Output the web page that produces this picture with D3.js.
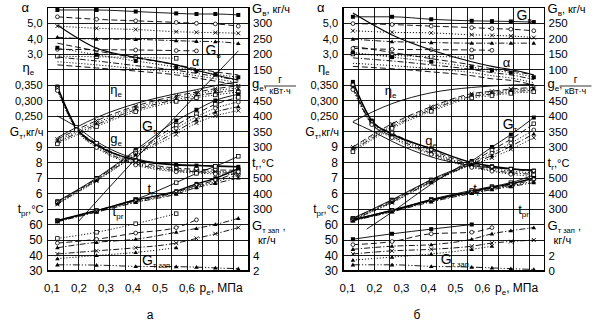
<!DOCTYPE html>
<html><head><meta charset="utf-8">
<script src="https://cdn.jsdelivr.net/npm/d3@7"></script>
<style>
body{margin:0;background:#fff;}
svg{display:block;font-family:"Liberation Sans",Arial,sans-serif;}
</style></head><body>
<svg id="c" width="597" height="326"></svg>
<script>
// ---------- shared x data ----------
const pe   = [0.12, 0.265, 0.41, 0.56, 0.635, 0.705, 0.79];
const peGe = [0.12, 0.19, 0.265, 0.41, 0.56, 0.635, 0.705, 0.79];
const xTicks = [0.1, 0.2, 0.3, 0.4, 0.5, 0.6];
const xTickLabels = ["0,1", "0,2", "0,3", "0,4", "0,5", "0,6"];
const alphaTicks = [5, 4, 3];
const etaTicks = [0.35, 0.30, 0.25];
const gtTicks = [9, 8, 7, 6];
const tprTicks = [60, 50, 40, 30];
const geTicks = [450, 400, 350, 300];
const trTicks = [500, 400, 300];
const gvTicks_a = [300, 250, 200, 150];
const gvTicks_b = [250, 200, 150, 100];
const gzTicks_a = [4, 2];
const gzTicks_b = [2, 0];

// ---------- panel а ----------
const gvA_a = [342, 342, 337, 331, 329, 329, 326];
const gvB_a = [320, 312, 307, 302, 299, 297, 290];
const gvC_a = [290, 283, 279, 272, 270, 269, 267];
const gvD_a = [254, 248, 247, 243, 241, 240, 234];
const gvE_a = [215, 214, 213, 211, 210, null, null];
const gvF_a = [193, 191, 189, 186, null, null, null];
const alpha1_a = [4.87, 3.37, 2.79, 2.3, 1.95, 1.65, 1.32];
const alpha2_a = [3.7, 3.2, 2.75, 2.3, 2.05, 1.85, 1.65];
const alpha3_a = [3.4, 2.95, 2.55, 2.15, 1.9, 1.7, 1.5];
const alpha4_a = [2.8, 2.55, 2.25, 1.95, 1.75, 1.55, 1.32];
const alpha5_a = [2.5, 2.3, 2.05, 1.8, 1.6, 1.4, 1.15];
const alpha6_a = [2.3, 2.1, 1.9, 1.65, 1.45, 1.25, 1.0];
const eta1_a = [0.18, 0.245, 0.29, 0.322, 0.335, 0.348, 0.36];
const eta2_a = [0.175, 0.235, 0.282, 0.315, 0.327, 0.338, 0.347];
const eta3_a = [0.17, 0.228, 0.276, 0.309, 0.321, 0.332, 0.34];
const eta4_a = [0.165, 0.222, 0.27, 0.303, 0.315, 0.325, 0.334];
const eta5_a = [0.16, 0.216, 0.264, 0.297, 0.309, 0.318, 0.327];
const ge1_a = [495, 362, 308, 258, 242, 240, 238, 236];
const ge2_a = [400, 365, 318, 262, 244, 241, 239, 237];
const ge3_a = [490, 364, 312, 255, 232, 228, 226, 225];
const ge4_a = [488, 360, 306, 250, 228, 223, 221, 220];
const ge5_a = [485, 358, 302, 246, 224, 220, 217, 216];
const ge6_a = [482, 355, 298, 242, 220, 216, 213, 211];
const gt1_a = [5.5, 7.0, 8.8, 10.7, 11.4, 12.0, 12.4];
const gt2_a = [5.45, 6.95, 8.7, 10.4, 11.15, 11.75, 12.2];
const gt3_a = [5.4, 6.9, 8.6, 10.2, 10.95, 11.5, 11.9];
const gt4_a = [5.35, 6.85, 8.5, 10.0, 10.75, 11.25, 11.6];
const gt5_a = [5.3, 6.8, 8.45, 9.8, 10.55, 11.0, 11.35];
const peSteep_a = [0.198, 0.41, 0.56, 0.79];
const gtSteep_a = [4.2, 8.25, 11.0, 15.2];
const tr1_a = [225, 290, 362, 470, 530, 575, 640];
const tr2_a = [225, 290, 358, 415, 462, 498, 560];
const tr3_a = [222, 286, 352, 408, 452, 485, 540];
const tr4_a = [220, 283, 347, 402, 445, 475, 520];
const tr5_a = [218, 280, 342, 396, 438, 465, 500];
const tp1_a = [51, 55, 60.5, 67, null, null, null];
const tp2_a = [48, 50.5, 54.5, 58, 63, null, null];
const tp3_a = [45, 48.5, 50.5, 55, 57.5, 60, 64];
const gz1_a = [4.2, 4.6, 5.0, 5.6, 6.2, 6.8, 7.6];
const gz2_a = [3.6, 4.0, 4.4, 5.0, null, null, null];
const gz3_a = [2.8, 2.76, 2.6, 2.56, 2.5, 2.4, 2.3];

// ---------- panel б ----------
const gvA_b = [270, 270, 262, 257, 256, 255, 253];
const gvB_b = [248, 245, 240, 235, 232, 230, 225];
const gvC_b = [225, 220, 218, 212, 210, 208, 203];
const gvD_b = [198, 190, 187, 185, 185, 185, 185];
const gvE_b = [168, 165, 164, 163, 162, null, null];
const gvF_b = [150, 145, 142, 140, null, null, null];
const alpha1_b = [5.64, 4.23, 3.26, 2.5, 2.2, 2.0, 1.65];
const alpha2_b = [3.5, 3.1, 2.7, 2.3, 2.05, 1.9, 1.65];
const alpha3_b = [3.1, 2.8, 2.5, 2.15, 1.95, 1.8, 1.5];
const alpha4_b = [2.75, 2.55, 2.3, 2.0, 1.8, 1.65, 1.35];
const alpha5_b = [2.4, 2.25, 2.05, 1.8, 1.6, 1.45, 1.15];
const alpha6_b = [2.2, 2.05, 1.85, 1.6, 1.4, 1.3, 1.0];
const eta1_b = [0.232, 0.29, 0.325, 0.342, 0.347, 0.35, 0.352];
const eta2_b = [0.15, 0.225, 0.28, 0.322, 0.33, 0.337, 0.342];
const eta3_b = [0.145, 0.22, 0.275, 0.318, 0.326, 0.333, 0.338];
const eta4_b = [0.14, 0.215, 0.27, 0.313, 0.321, 0.328, 0.333];
const eta5_b = [0.135, 0.21, 0.265, 0.308, 0.316, 0.323, 0.328];
const ge1_b = [510, 385, 342, 295, 250, 238, 230, 224];
const ge2_b = [380, 352, 318, 268, 240, 233, 229, 226];
const ge3_b = [500, 380, 345, 290, 245, 235, 228, 222];
const ge4_b = [495, 378, 340, 285, 240, 230, 222, 217];
const ge5_b = [490, 375, 335, 280, 237, 225, 217, 212];
const ge6_b = [485, 372, 330, 276, 234, 222, 212, 205];
const gt1_b = [4.4, 5.6, 6.9, 8.1, 9.0, 9.8, 10.9];
const gt2_b = [4.4, 5.55, 6.85, 8.0, 8.8, 9.5, 10.5];
const gt3_b = [4.35, 5.5, 6.8, 7.95, 8.6, 9.25, 10.1];
const gt4_b = [4.3, 5.45, 6.75, 7.9, 8.45, 9.05, 9.85];
const gt5_b = [4.3, 5.4, 6.7, 7.85, 8.3, 8.85, 9.6];
const peSteep_b = [0.171, 0.265, 0.41, 0.521];
const gtSteep_b = [3.7, 4.8, 6.6, 7.8];
const tr1_b = [232, 292, 362, 420, 445, 470, 520];
const tr2_b = [230, 290, 358, 412, 440, 462, 500];
const tr3_b = [228, 287, 354, 408, 435, 455, 490];
const tr4_b = [226, 285, 350, 404, 430, 450, 480];
const tr5_b = [224, 282, 346, 400, 425, 445, 470];
const tp1_b = [50.5, 54, 57, 60, null, null, null];
const tp2_b = [47, 49, 54, 55, 58, null, null];
const tp3_b = [44, 46, 47, 50.5, 54, 56, 58];
const gz1_b = [2.2, 2.6, 2.8, 3.2, 3.6, 3.8, 4.0];
const gz2_b = [1.4, 1.8, 2.2, 2.8, 3.2, null, null];
const gz3_b = [0.8, 0.8, 0.6, 0.5, 0.4, 0.3, 0.2];

// ---------- drawing ----------
const svg = d3.select('#c');
const TOP = 7.5, ROW = 15.5, NR = 17, NC = 13, COL = 15.5;
const DASH = {solid: null, dash: "6,3", dot: "1.2,1.8", dashdot: "6,2,1.2,2", dashdot2: "7,2,1.2,2,1.2,2"};

function txt(parent, x, y, parts, anchor, size) {
  const t = parent.append('text').attr('x', x).attr('y', y)
    .attr('text-anchor', anchor || 'start').attr('font-size', size || 11).attr('fill', '#000');
  let sub = false;
  parts.forEach(p => {
    const arr = typeof p === 'string' ? [p, 'n'] : p;
    const ts = t.append('tspan').text(arr[0]);
    if (arr[1] === 's') {
      ts.attr('font-size', arr[2] || 8);
      if (!sub) { ts.attr('dy', 3); sub = true; }
    } else {
      if (arr[2]) ts.attr('font-size', arr[2]);
      if (sub) { ts.attr('dy', -3); sub = false; }
    }
  });
  return t;
}

function marker(g, type, cx, cy) {
  if (!type) return;
  if (type === 'fsq') g.append('rect').attr('x', cx - 2).attr('y', cy - 2).attr('width', 4).attr('height', 4).attr('fill', '#000');
  else if (type === 'osq') g.append('rect').attr('x', cx - 1.8).attr('y', cy - 1.8).attr('width', 3.6).attr('height', 3.6).attr('fill', '#fff').attr('stroke', '#000').attr('stroke-width', 0.8);
  else if (type === 'oc') g.append('circle').attr('cx', cx).attr('cy', cy).attr('r', 1.9).attr('fill', '#fff').attr('stroke', '#000').attr('stroke-width', 0.8);
  else if (type === 'x') g.append('path').attr('d', `M${cx-2},${cy-2}L${cx+2},${cy+2}M${cx-2},${cy+2}L${cx+2},${cy-2}`).attr('stroke', '#000').attr('stroke-width', 0.9);
  else if (type === 'tri') g.append('path').attr('d', `M${cx-2.3},${cy+1.6}L${cx+2.3},${cy+1.6}L${cx},${cy-2.2}Z`).attr('fill', '#000');
}

function panel(cfg) {
  const L = cfg.left, R = L + NC * COL, B = TOP + NR * ROW;
  const g = svg.append('g');
  const gx = d3.scaleLinear().domain([0, NC]).range([L, R]);
  const gy = d3.scaleLinear().domain([0, NR]).range([TOP, B]);
  const x = d3.scaleLinear().domain([0.1, 0.6]).range([L + 4.5, L + 139.5]);
  const ys = {
    alpha: d3.scaleLinear().domain([6, 6 - NR]).range([TOP, B]),
    gv: d3.scaleLinear().domain([cfg.gvTop, cfg.gvTop - 50 * NR]).range([TOP, B]),
    eta: d3.scaleLinear().domain([0.60, 0.60 - 0.05 * NR]).range([TOP, B]),
    ge: d3.scaleLinear().domain([750, 750 - 50 * NR]).range([TOP, B]),
    gt: d3.scaleLinear().domain([18, 18 - NR]).range([TOP, B]),
    tr: d3.scaleLinear().domain([1600, 1600 - 100 * NR]).range([TOP, B]),
    tpr: d3.scaleLinear().domain([200, 200 - 10 * NR]).range([TOP, B]),
    gz: d3.scaleLinear().domain([cfg.gzTop, cfg.gzTop - 2 * NR]).range([TOP, B])
  };
  // grid
  const grid = g.append('g').attr('stroke', '#000').attr('stroke-width', 0.9).attr('shape-rendering', 'crispEdges');
  grid.selectAll('.v').data(d3.range(1, NC)).join('line').attr('class', 'v')
    .attr('x1', d => gx(d)).attr('x2', d => gx(d)).attr('y1', TOP).attr('y2', B);
  grid.selectAll('.h').data(d3.range(1, NR)).join('line').attr('class', 'h')
    .attr('y1', d => gy(d)).attr('y2', d => gy(d)).attr('x1', L).attr('x2', R);
  g.append('rect').attr('x', L).attr('y', TOP).attr('width', R - L).attr('height', B - TOP)
    .attr('fill', 'none').attr('stroke', '#000').attr('stroke-width', 1.2).attr('shape-rendering', 'crispEdges');

  // series
  const sg = g.append('g');
  cfg.series.forEach(s => {
    const xs = s.x || pe;
    const pts = xs.map((xv, i) => ({x: xv, v: s.v[i]})).filter(d => d.v != null);
    const ysc = ys[s.p];
    const line = d3.line().x(d => x(d.x)).y(d => ysc(d.v)).curve(d3.curveMonotoneX);
    sg.append('path').attr('d', line(pts)).attr('fill', 'none').attr('stroke', '#000')
      .attr('stroke-width', s.w || 0.9).attr('stroke-dasharray', DASH[s.d]);
    if (s.m) pts.forEach(d => marker(sg, s.m, x(d.x), ysc(d.v)));
  });

  // left axis
  const la = g.append('g');
  const lx = L - 5;
  alphaTicks.forEach(v => txt(la, lx, ys.alpha(v) + 4, [d3.format('.1f')(v).replace('.', ',')], 'end'));
  etaTicks.forEach(v => txt(la, lx, ys.eta(v) + 4, [d3.format('.3f')(v).replace('.', ',')], 'end'));
  gtTicks.forEach(v => txt(la, lx, ys.gt(v) + 4, [String(v)], 'end', 12));
  tprTicks.forEach(v => txt(la, lx, ys.tpr(v) + 4, [String(v)], 'end', 12));
  txt(la, L - 26, gy(0) + 4, ['α'], 'start', 13);
  txt(la, L - 25, gy(4) + 2, [['η', 'n', 13], ['e', 's', 8]], 'start');
  txt(la, L - 4, gy(8) + 4, [['G', 'n', 12], ['т', 's', 8], [',кг/ч', 'n', 11]], 'end');
  txt(la, L - 4, gy(13) + 4, [['t', 'n', 12], ['pr', 's', 8], [',°C', 'n', 11]], 'end');

  // right axis
  const ra = g.append('g');
  const rx = R + 4;
  cfg.gvTicks.forEach(v => txt(ra, rx, ys.gv(v) + 4, [String(v)], 'start', 11.5));
  geTicks.forEach(v => txt(ra, rx, ys.ge(v) + 4, [String(v)], 'start', 11.5));
  trTicks.forEach(v => txt(ra, rx, ys.tr(v) + 4, [String(v)], 'start', 11.5));
  cfg.gzTicks.forEach(v => txt(ra, rx, ys.gz(v) + 4, [String(v)], 'start', 11.5));
  txt(ra, rx - 1, gy(0) + 5, [['G', 'n', 13], ['в', 's', 8], [', кг/ч', 'n', 11]]);
  txt(ra, rx - 1, gy(5) + 3, [['g', 'n', 13], ['е', 's', 8], [',', 'n', 11]]);
  txt(ra, rx + 27, gy(5) - 2, ['г'], 'middle', 10);
  ra.append('line').attr('x1', rx + 11).attr('x2', rx + 43).attr('y1', gy(5) + 1).attr('y2', gy(5) + 1).attr('stroke', '#000').attr('stroke-width', 0.8);
  txt(ra, rx + 27, gy(5) + 9, ['кВт·ч'], 'middle', 9);
  txt(ra, rx - 1, gy(10) + 4, [['t', 'n', 13], ['г', 's', 8], [',°C', 'n', 11]]);
  txt(ra, rx - 1, gy(14) + 5, [['G', 'n', 13], ['т зап', 's', 7.5], [' ,', 'n', 11]]);
  txt(ra, rx + 5, gy(15) + 4, ['кг/ч'], 'start', 11);

  // x axis
  const xa = g.append('g');
  xTicks.forEach((v, i) => txt(xa, x(v), 292, [xTickLabels[i]], 'middle', 11.5));
  txt(xa, L + 152, 292, [['p', 'n', 12], ['е', 's', 8], [', МПа', 'n', 12]]);
  txt(xa, cfg.capX, 319, [cfg.caption], 'middle', 12);

  // in-plot labels
  const il = g.append('g');
  cfg.labels.forEach(lb => txt(il, gx(lb.c), gy(lb.r), lb.t, 'start', 11));
}

function mkSeries(s) {
  return [
    {p: 'gv', v: s.gvA, d: 'solid', m: 'fsq'},
    {p: 'gv', v: s.gvB, d: 'dash', m: 'oc'},
    {p: 'gv', v: s.gvC, d: 'dot', m: 'x'},
    {p: 'gv', v: s.gvD, d: 'dashdot', m: 'tri'},
    {p: 'gv', v: s.gvE, d: 'dash', m: 'oc'},
    {p: 'gv', v: s.gvF, d: 'dot', m: 'osq'},
    {p: 'alpha', v: s.a1, d: 'solid', m: null, w: 1.1},
    {p: 'alpha', v: s.a2, d: 'dash', m: null},
    {p: 'alpha', v: s.a3, d: 'dot', m: 'fsq'},
    {p: 'alpha', v: s.a4, d: 'dashdot', m: null},
    {p: 'alpha', v: s.a5, d: 'dot', m: null},
    {p: 'alpha', v: s.a6, d: 'dash', m: null},
    {p: 'eta', v: s.e1, d: 'solid', m: null},
    {p: 'eta', v: s.e2, d: 'dash', m: 'x'},
    {p: 'eta', v: s.e3, d: 'dot', m: 'x'},
    {p: 'eta', v: s.e4, d: 'dashdot', m: 'tri'},
    {p: 'eta', v: s.e5, d: 'dot', m: 'osq'},
    {p: 'ge', x: peGe, v: s.g1, d: 'solid', m: 'fsq', w: 1.5},
    {p: 'ge', x: peGe, v: s.g2, d: 'solid', m: null},
    {p: 'ge', x: peGe, v: s.g3, d: 'dash', m: 'osq'},
    {p: 'ge', x: peGe, v: s.g4, d: 'dot', m: 'x'},
    {p: 'ge', x: peGe, v: s.g5, d: 'dashdot', m: 'tri'},
    {p: 'ge', x: peGe, v: s.g6, d: 'dot', m: 'oc'},
    {p: 'gt', v: s.t1, d: 'solid', m: 'fsq'},
    {p: 'gt', v: s.t2, d: 'dash', m: 'osq'},
    {p: 'gt', v: s.t3, d: 'dot', m: 'oc'},
    {p: 'gt', v: s.t4, d: 'dashdot', m: 'tri'},
    {p: 'gt', v: s.t5, d: 'dot', m: 'x'},
    {p: 'gt', x: s.stX, v: s.st, d: 'solid', m: null},
    {p: 'tr', v: s.r1, d: 'solid', m: 'osq'},
    {p: 'tr', v: s.r2, d: 'solid', m: 'fsq', w: 1.4},
    {p: 'tr', v: s.r3, d: 'dash', m: 'oc'},
    {p: 'tr', v: s.r4, d: 'dot', m: 'x'},
    {p: 'tr', v: s.r5, d: 'dashdot', m: 'tri'},
    {p: 'tpr', v: s.p1, d: s.p1d, m: s.p1m},
    {p: 'tpr', v: s.p2, d: 'dash', m: 'oc'},
    {p: 'tpr', v: s.p3, d: 'dashdot', m: 'tri'},
    {p: 'gz', v: s.z1, d: 'dashdot', m: 'x'},
    {p: 'gz', v: s.z2, d: 'dot', m: 'tri'},
    {p: 'gz', v: s.z3, d: 'dashdot2', m: 'tri'}
  ];
}

panel({
  left: 47.5, gvTop: 350, gzTop: 36, gvTicks: gvTicks_a, gzTicks: gzTicks_a, caption: 'а', capX: 150,
  series: mkSeries({gvA: gvA_a, gvB: gvB_a, gvC: gvC_a, gvD: gvD_a, gvE: gvE_a, gvF: gvF_a,
    a1: alpha1_a, a2: alpha2_a, a3: alpha3_a, a4: alpha4_a, a5: alpha5_a, a6: alpha6_a,
    e1: eta1_a, e2: eta2_a, e3: eta3_a, e4: eta4_a, e5: eta5_a,
    g1: ge1_a, g2: ge2_a, g3: ge3_a, g4: ge4_a, g5: ge5_a, g6: ge6_a,
    t1: gt1_a, t2: gt2_a, t3: gt3_a, t4: gt4_a, t5: gt5_a, stX: peSteep_a, st: gtSteep_a,
    r1: tr1_a, r2: tr2_a, r3: tr3_a, r4: tr4_a, r5: tr5_a,
    p1: tp1_a, p1d: 'dot', p1m: 'osq', p2: tp2_a, p3: tp3_a, z1: gz1_a, z2: gz2_a, z3: gz3_a}),
  labels: [
    {c: 10.2, r: 3.06, t: [['G', 'n', 14], ['в', 's', 8]]},
    {c: 9.3, r: 3.77, t: [['α', 'n', 13]]},
    {c: 4.05, r: 5.6, t: [['η', 'n', 13], ['e', 's', 8]]},
    {c: 6.1, r: 7.97, t: [['G', 'n', 14], ['т', 's', 8]]},
    {c: 4.05, r: 8.74, t: [['g', 'n', 13], ['е', 's', 8]]},
    {c: 6.45, r: 11.95, t: [['t', 'n', 13], ['г', 's', 8]]},
    {c: 4.2, r: 13.45, t: [['t', 'n', 13], ['pr', 's', 8]]},
    {c: 6.1, r: 16.6, t: [['G', 'n', 14], ['т зап', 's', 7.5]]}
  ]
});

panel({
  left: 343, gvTop: 300, gzTop: 34, gvTicks: gvTicks_b, gzTicks: gzTicks_b, caption: 'б', capX: 417,
  series: mkSeries({gvA: gvA_b, gvB: gvB_b, gvC: gvC_b, gvD: gvD_b, gvE: gvE_b, gvF: gvF_b,
    a1: alpha1_b, a2: alpha2_b, a3: alpha3_b, a4: alpha4_b, a5: alpha5_b, a6: alpha6_b,
    e1: eta1_b, e2: eta2_b, e3: eta3_b, e4: eta4_b, e5: eta5_b,
    g1: ge1_b, g2: ge2_b, g3: ge3_b, g4: ge4_b, g5: ge5_b, g6: ge6_b,
    t1: gt1_b, t2: gt2_b, t3: gt3_b, t4: gt4_b, t5: gt5_b, stX: peSteep_b, st: gtSteep_b,
    r1: tr1_b, r2: tr2_b, r3: tr3_b, r4: tr4_b, r5: tr5_b,
    p1: tp1_b, p1d: 'solid', p1m: 'fsq', p2: tp2_b, p3: tp3_b, z1: gz1_b, z2: gz2_b, z3: gz3_b}),
  labels: [
    {c: 11.2, r: 0.8, t: [['G', 'n', 14], ['в', 's', 8]]},
    {c: 10.3, r: 3.84, t: [['α', 'n', 13]]},
    {c: 2.7, r: 5.65, t: [['η', 'n', 13], ['e', 's', 8]]},
    {c: 10.3, r: 7.84, t: [['G', 'n', 14], ['т', 's', 8]]},
    {c: 5.3, r: 8.87, t: [['g', 'n', 13], ['е', 's', 8]]},
    {c: 8.4, r: 11.97, t: [['t', 'n', 13], ['г', 's', 8]]},
    {c: 11.3, r: 13.3, t: [['t', 'n', 13], ['pr', 's', 8]]},
    {c: 6.3, r: 16.55, t: [['G', 'n', 14], ['т зап', 's', 7.5]]}
  ]
});
</script></body></html>
